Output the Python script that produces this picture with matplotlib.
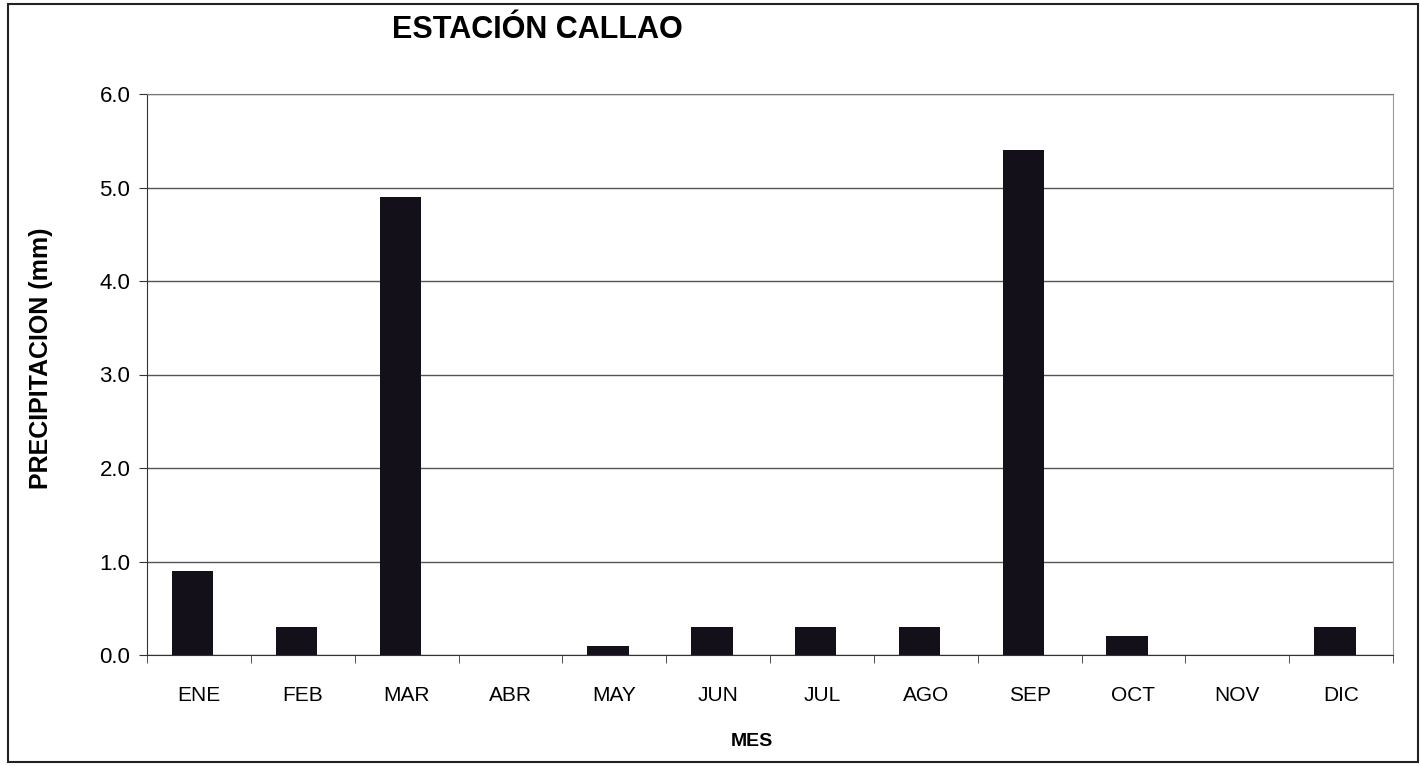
import matplotlib.pyplot as plt
from matplotlib.patches import Rectangle

meses = ['ENE', 'FEB', 'MAR', 'ABR', 'MAY', 'JUN', 'JUL', 'AGO', 'SEP', 'OCT', 'NOV', 'DIC']
precip = [0.9, 0.3, 4.9, 0.0, 0.1, 0.3, 0.3, 0.3, 5.4, 0.2, 0.0, 0.3]
yticks = [0.0, 1.0, 2.0, 3.0, 4.0, 5.0, 6.0]

plt.rcParams['font.family'] = ['Liberation Sans', 'DejaVu Sans']

fig = plt.figure(figsize=(14.2, 7.66), dpi=100)
ax = fig.add_axes([147/1420, 1-655/766, (1393-147)/1420, (655-94)/766])

x = list(range(len(meses)))
ax.bar([i - 0.06 for i in x], precip, width=0.4, color='#14101a', zorder=3)

ax.set_xlim(-0.5, len(meses)-0.5)
ax.set_ylim(0, 6)
ax.set_yticks(yticks)
ax.set_yticklabels(['%.1f' % v for v in yticks], fontsize=16)
ax.set_xticks(x)
ax.set_xticklabels(meses, fontsize=15)
ax.tick_params(axis='x', length=0, pad=22)
ax.set_xticks([i + 0.5 for i in range(-1, len(meses))], minor=True)
ax.tick_params(axis='x', which='minor', length=6, direction='out', color='#333333')
ax.tick_params(axis='y', length=6, direction='out', color='#333333', pad=6)

ax.grid(axis='y', color='#555555', linewidth=1.0, zorder=0)
ax.spines['top'].set_color('#777777')
ax.spines['right'].set_color('#999999')
ax.spines['left'].set_color('#333333')
ax.spines['bottom'].set_color('#333333')

fig.text(752/1420, 1-742/766, 'MES', fontsize=14, fontweight='bold', ha='center', va='center')
fig.text(41/1420, 1-358/766, 'PRECIPITACION (mm)', fontsize=18, fontweight='bold',
         rotation=90, ha='center', va='center')
fig.text(537/1420, 1-30/766, 'ESTACIÓN CALLAO', fontsize=22, fontweight='bold',
         ha='center', va='center')

fig.patches.append(Rectangle((8/1420, 4/766), 1410/1420, 758/766, transform=fig.transFigure,
                             fill=False, edgecolor='#222222', linewidth=1.5))

fig.savefig('out.png', dpi=100)
